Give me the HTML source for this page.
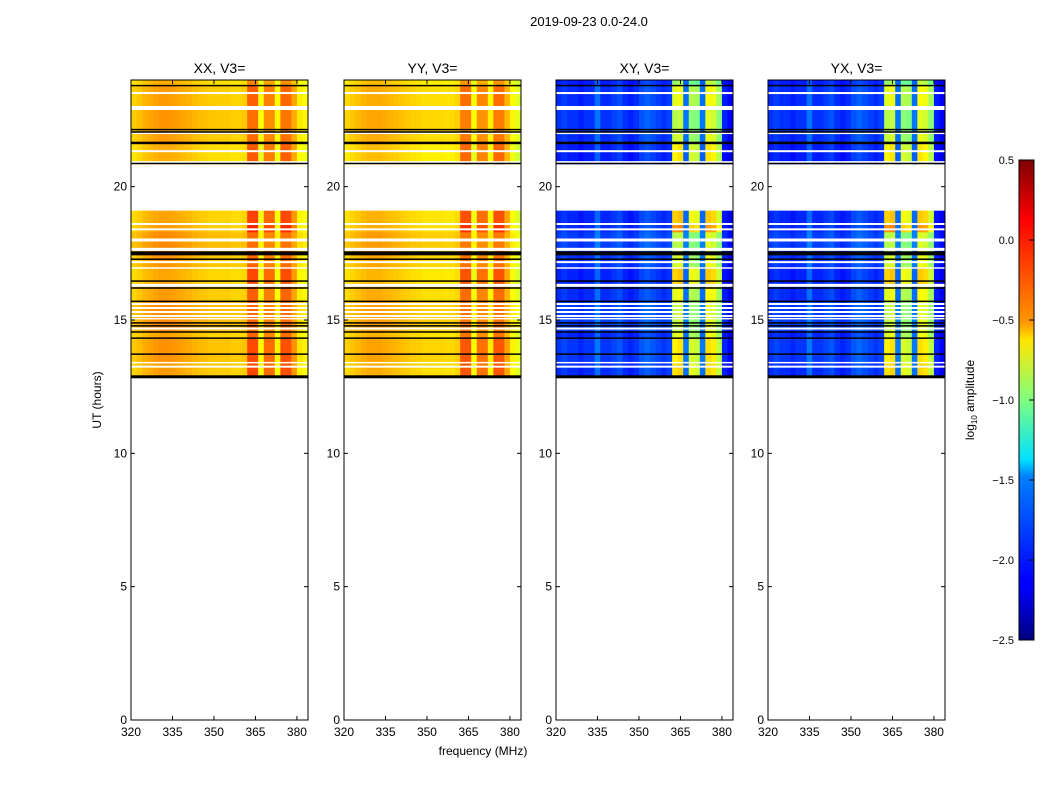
<!DOCTYPE html>
<html><head><meta charset="utf-8"><style>
body{margin:0;background:#fff;}
svg text{font-family:"Liberation Sans",sans-serif;}
</style></head><body>
<svg id="fig" width="1050" height="800" xmlns="http://www.w3.org/2000/svg">
<text x="589" y="26" font-size="13" text-anchor="middle">2019-09-23 0.0-24.0</text>
<text x="483" y="755" font-size="12" text-anchor="middle">frequency (MHz)</text>
<text transform="translate(101,400) rotate(-90)" font-size="12" text-anchor="middle">UT (hours)</text>
<g id="panels"></g>
<defs><linearGradient id="jet" x1="0" y1="1" x2="0" y2="0">
<stop offset="0" stop-color="#00007f"/><stop offset="0.11" stop-color="#0000ff"/><stop offset="0.125" stop-color="#0000ff"/><stop offset="0.34" stop-color="#0080ff"/><stop offset="0.375" stop-color="#00e0ff"/><stop offset="0.5" stop-color="#7fff7f"/><stop offset="0.625" stop-color="#ffe600"/><stop offset="0.66" stop-color="#ff9900"/><stop offset="0.875" stop-color="#ff0000"/><stop offset="1" stop-color="#7f0000"/>
</linearGradient></defs>
<g id="cbar">
<rect x="1019" y="160" width="15" height="480" fill="url(#jet)" stroke="#000" stroke-width="1"/>
</g>
<text transform="translate(974,400) rotate(-90)" font-size="12" text-anchor="middle">log<tspan font-size="8" dy="3">10</tspan><tspan dy="-3"> amplitude</tspan></text>
</svg>
<script>
const panelNames=["XX","YY","XY","YX"];
const freqBins=[320,322,324,326,328,330,332,334,336,338,340,342,344,346,348,350,352,354,356,358,360,362,364,366,368,370,372,374,376,378,380,382];
const baseXX=[-0.5,-0.46,-0.41,-0.38,-0.35,-0.33,-0.33,-0.34,-0.36,-0.38,-0.4,-0.43,-0.45,-0.46,-0.48,-0.48,-0.48,-0.48,-0.5,-0.5,-0.48,-0.26,-0.26,-0.65,-0.34,-0.34,-0.62,-0.28,-0.28,-0.42,-0.58,-0.62];
const baseYY=[-0.52,-0.48,-0.44,-0.41,-0.38,-0.38,-0.38,-0.4,-0.42,-0.44,-0.46,-0.48,-0.5,-0.51,-0.53,-0.53,-0.53,-0.53,-0.54,-0.54,-0.5,-0.3,-0.3,-0.65,-0.36,-0.36,-0.6,-0.3,-0.3,-0.46,-0.62,-0.72];
const boostXX=[0,0,0,0,0,0,0,0,0,0,0,0,0,0,0,0,0,0,0,0,0,0.35,0.35,0,0.3,0.3,0,0.35,0.35,0.2,0,0];
const baseXY=[-2.0,-1.95,-2.0,-2.0,-2.05,-2.0,-2.0,-1.8,-2.0,-2.0,-1.95,-1.9,-2.0,-2.05,-2.0,-1.9,-1.85,-1.9,-1.95,-2.0,-1.95,-0.95,-0.9,-1.8,-1.05,-1.1,-1.8,-0.8,-0.85,-1.05,-2.05,-2.15];
const boostXY=[0,0,0,0,0,0,0,0,0,0,0,0,0,0,0,0,0,0,0,0,0,0.8,0.8,0,0.7,0.7,0,0.6,0.6,0.5,0,0];
const rowStart=[20.85,21.6,22.1,23.0,23.8,12.85,13.4,14.3,14.6,15.7,16.3,17.0,17.5,18.3,18.6];
const rowEnd=[21.6,22.1,23.0,23.8,24.0,13.4,14.3,14.6,15.7,16.3,17.0,17.5,18.3,18.6,19.1];
const rowHot=[0.5,0.2,0.1,0.3,0.1,0.5,0.4,0.3,0.1,0.3,0.6,0.2,0.05,0.8,0.6];
const rowOff=[-0.05,0,0.02,0,-0.05,0,0.03,-0.02,0.05,0,-0.03,0.02,0.05,0,-0.02];
const blackHours=[23.79,22.14,22.05,21.64,20.87,17.5,17.28,16.46,16.2,15.7,14.89,14.78,14.55,14.32,13.72,12.87];
const blackPx=[1.5,1.5,1.5,2.5,1.5,4,1.5,1.5,1.5,1.5,1.5,1.5,1.5,1.5,1.5,3];
const whiteHours=[23.51,22.95,22.0,21.33,20.92,18.6,18.4,18.0,17.65,17.17,16.95,16.3,15.6,15.45,15.3,15.15,15.05,14.68,13.4,13.25];
const whitePx=[2,4,1.5,2,2,2,2,3,3,2,1.5,3,2,2,2,2,1.5,2,1.5,2];
const xTicks=[320,335,350,365,380];
const yTicks=[0,5,10,15,20];
const cbTicks=[0.5,0.0,-0.5,-1.0,-1.5,-2.0,-2.5];

const NS="http://www.w3.org/2000/svg";
const panelLeft=[131,344,556,768], panelW=177, yTop=80, yBottom=720;
function yScale(h){return yBottom-(h/24)*(yBottom-yTop);}
function xScaleF(f,x0){return x0+(f-320)/64*panelW;}
function jet(v){let t=(v+2.5)/3;t=Math.max(0,Math.min(1,t));
 const r=Math.max(0,Math.min(1,1.5-Math.abs(4*t-3))),g=Math.max(0,Math.min(1,1.5-Math.abs(4*t-2))),b=Math.max(0,Math.min(1,1.5-Math.abs(4*t-1)));
 return `rgb(${Math.round(r*255)},${Math.round(g*255)},${Math.round(b*255)})`;}
function mk(tag,attrs,parent){const e=document.createElementNS(NS,tag);for(const k in attrs)e.setAttribute(k,attrs[k]);parent.appendChild(e);return e;}
const root=document.getElementById('panels');
panelNames.forEach((nm,p)=>{
 const x0=panelLeft[p];
 const g=mk('g',{},root);
 
 
 const base=p==0?baseXX:p==1?baseYY:baseXY;
 const boost=p<2?boostXX:boostXY;
 for(let r=0;r<rowStart.length;r++){
  const y1=yScale(rowEnd[r]),y2=yScale(rowStart[r]);
  for(let c=0;c<freqBins.length;c++){
   const xa=xScaleF(freqBins[c],x0),xb=xScaleF(freqBins[c]+2,x0);
   const v=base[c]+rowHot[r]*boost[c]+rowOff[r];
   const cell=mk('rect',{x:xa,y:y1,width:xb-xa+0.3,height:y2-y1+0.3,fill:jet(v)},g);
   
   
  }
 }
 whiteHours.forEach((h,i)=>{const l=mk('rect',{x:x0,y:yScale(h)-whitePx[i]/2,width:panelW,height:whitePx[i],fill:'#fff'},g);
  
  });
 blackHours.forEach((h,i)=>{const l=mk('rect',{x:x0,y:yScale(h)-blackPx[i]/2,width:panelW,height:blackPx[i],fill:'#000'},g);
  
  });
 const fr=mk('rect',{x:x0,y:yTop,width:panelW,height:yBottom-yTop,fill:'none',stroke:'#000','stroke-width':1},g);
 
 
 xTicks.forEach(t=>{const x=xScaleF(t,x0);
  mk('line',{x1:x,x2:x,y1:yBottom,y2:yBottom-4,stroke:'#000'},g);mk('line',{x1:x,x2:x,y1:yTop,y2:yTop+4,stroke:'#000'},g);
  const tx=mk('text',{x:x,y:yBottom+16,'font-size':12,'text-anchor':'middle'},g);tx.textContent=t;
  
  });
 yTicks.forEach(t=>{const y=yScale(t);
  mk('line',{x1:x0,x2:x0+4,y1:y,y2:y,stroke:'#000'},g);mk('line',{x1:x0+panelW,x2:x0+panelW-4,y1:y,y2:y,stroke:'#000'},g);
  const tx=mk('text',{x:x0-4,y:y+4,'font-size':12,'text-anchor':'end'},g);tx.textContent=t;
  
  });
 const ti=mk('text',{x:x0+panelW/2,y:73,'font-size':14,'text-anchor':'middle'},g);ti.textContent=nm+', V3=';
 
 
});
const cb=document.getElementById('cbar');
cbTicks.forEach(t=>{const y=160+(0.5-t)/3*480;
 mk('line',{x1:1034,x2:1029,y1:y,y2:y,stroke:'#000'},cb);
 const tx=mk('text',{x:1014,y:y+4,'font-size':11,'text-anchor':'end'},cb);tx.textContent=(t<0?'\u2212':'')+Math.abs(t).toFixed(1);
 
 });
</script>
</body></html>
